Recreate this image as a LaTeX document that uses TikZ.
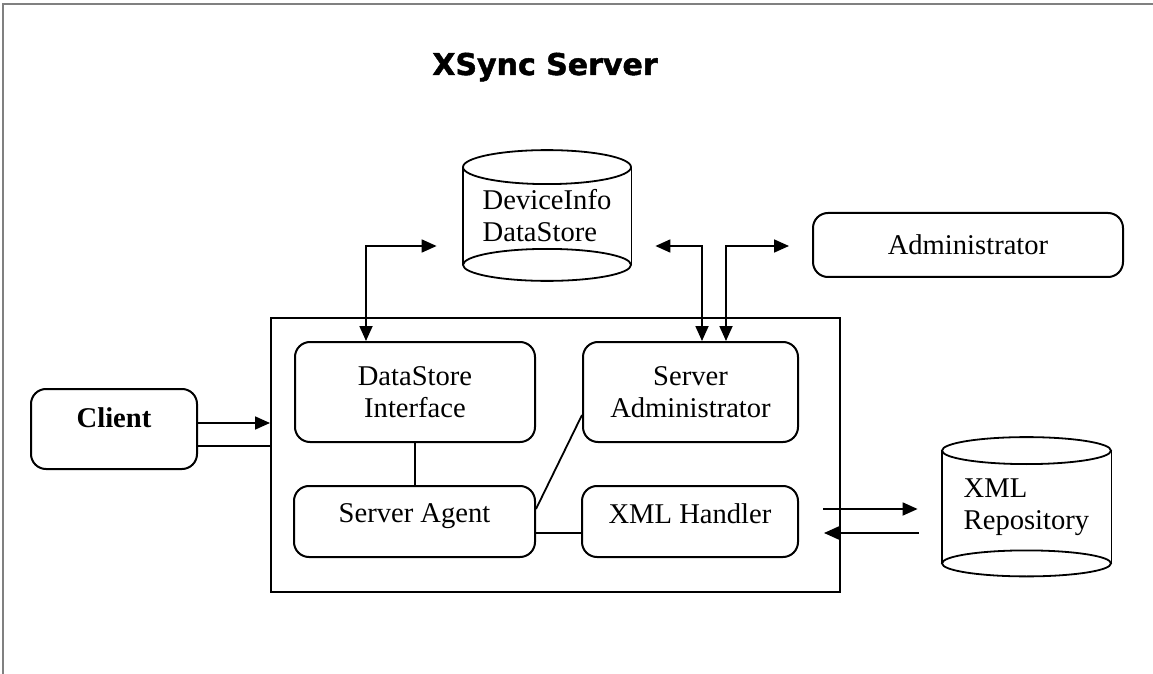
\documentclass[tikz,border=0pt]{standalone}
\usepackage{fontspec}
\setmainfont{Liberation Serif}
\newfontfamily\headfont{DejaVu Sans Bold}[FakeBold=1.6]
\usepackage{tikz}
\usetikzlibrary{arrows.meta,positioning,calc}
\definecolor{ink}{HTML}{000000}
\definecolor{framegray}{HTML}{808080}
\tikzset{
  block/.style={draw=ink,rounded corners=7.5pt,line width=1pt,inner sep=2pt,
                align=center,font=\fontsize{14.3}{16}\selectfont},
  can/.style={inner sep=0pt,align=left,font=\fontsize{14.3}{16}\selectfont},
  canline/.style={draw=ink,line width=0.9pt},
  arrowtwo/.style={{Triangle[length=7.5pt,width=6.5pt]}-{Triangle[length=7.5pt,width=6.5pt]},
                   line width=0.9pt,ink},
  arrowone/.style={-{Triangle[length=7.5pt,width=6.5pt]},line width=0.9pt,ink},
  link/.style={line width=0.9pt,ink},
}

\begin{document}
\begin{tikzpicture}[x=0.5pt,y=-0.5pt]
  \useasboundingbox(0,0)rectangle(1153,674);
  \draw[framegray,line width=1pt](3,674)--(3,4)--(1153,4);
  \node[font=\headfont\fontsize{15}{18}\selectfont,anchor=base](title)
    at(545,75){XSync Server};
  % server frame and its parts
  \node[draw=ink,line width=1pt,minimum width=284.5pt,minimum height=137pt,
        inner sep=0pt](server)at(555.5,455){};
  \node[block,minimum width=120pt,minimum height=50pt](dsif)at(415,392){DataStore\\Interface};
  \node[block,minimum width=107.5pt,minimum height=50pt](sadmin)at(690.5,392){Server\\Administrator};
  \node[block,minimum width=120.5pt,minimum height=35.5pt,text depth=8pt](agent)
    at(414.5,521.5){Server Agent};
  \node[block,minimum width=108pt,minimum height=35.5pt,text depth=8pt](xmlh)
    at(690,521.5){XML Handler};
  \node[block,minimum width=83pt,minimum height=40pt,text depth=11pt,
        font=\bfseries\fontsize{14.3}{16}\selectfont](client)at(114,429){Client};
  \node[block,minimum width=155pt,minimum height=32pt](admin)at(968,245){Administrator};
  % stores
  \node[can,minimum width=84pt,minimum height=48.5pt](devstore)at(547,216){DeviceInfo\\DataStore};
  \draw[canline](devstore.north)ellipse[x radius=42pt,y radius=8.5pt];
  \draw[canline](devstore.north west)--(devstore.south west)
                (devstore.north east)--(devstore.south east);
  \draw[canline](devstore.south)ellipse[x radius=42pt,y radius=8pt];
  \node[can,minimum width=84.5pt,minimum height=56pt](xmlrepo)at(1026.5,507){XML\\Repository};
  \draw[canline](xmlrepo.north)ellipse[x radius=42.25pt,y radius=6.75pt];
  \draw[canline](xmlrepo.north west)--(xmlrepo.south west)
                (xmlrepo.north east)--(xmlrepo.south east);
  \draw[canline](xmlrepo.south)ellipse[x radius=42.25pt,y radius=6.5pt];
  % connectors
  \coordinate(dsW)at($(devstore.west)+(-26,30)$);
  \coordinate(dsE)at($(devstore.east)+(24,30)$);
  \coordinate(admW)at($(admin.west)+(-23,1)$);
  \draw[arrowtwo](dsW)-|($(dsif.north west)+(72,0)$);
  \draw[arrowtwo](dsE)-|($(sadmin.north west)+(120,0)$);
  \draw[arrowtwo](admW)-|($(sadmin.north west)+(144,0)$);
  \draw[link](dsif.south)--(dsif.south|-agent.north);
  \draw[link]($(agent.east)+(0,-12.5)$)--($(sadmin.west)+(0,23)$);
  \draw[link]($(agent.east)+(0,11.5)$)--($(xmlh.west)+(0,11.5)$);
  \coordinate(cIn)at($(client.east)+(0,-6)$);
  \coordinate(cOut)at($(client.east)+(0,17)$);
  \draw[arrowone](cIn)--(cIn-|server.west);
  \draw[link](cOut)--(cOut-|server.west);
  \coordinate(hA)at($(xmlh.east)+(24,-12.5)$);
  \coordinate(rA)at($(xmlrepo.west)+(-24,2)$);
  \coordinate(rB)at($(xmlrepo.west)+(-23,26)$);
  \coordinate(hB)at($(xmlh.east)+(25,11.5)$);
  \draw[arrowone](hA)--(rA);
  \draw[arrowone](rB)--(hB);
\end{tikzpicture}
\end{document}
